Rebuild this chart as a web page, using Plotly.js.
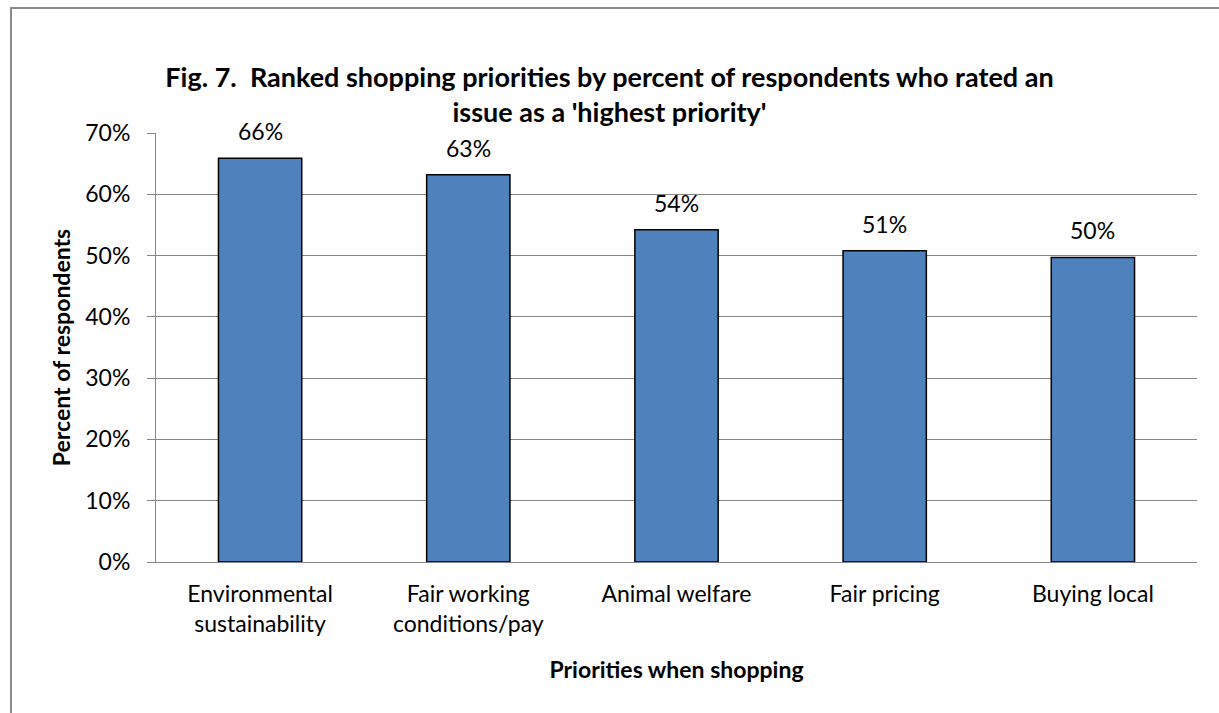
<!DOCTYPE html>
<html>
<head>
<meta charset="utf-8">
<script src="https://cdn.plot.ly/plotly-3.0.1.min.js"></script>
<style>
  html, body { margin: 0; padding: 0; background: #ffffff; overflow: hidden; }
  #wrap { position: relative; width: 1219px; height: 713px; }
  #chart { width: 1219px; height: 713px; }
  #frame { position: absolute; left: 10px; top: 7px; width: 1300px; height: 800px;
           border: 2px solid #8c8c8c; pointer-events: none; }
</style>
</head>
<body>
<div id="wrap">
  <div id="chart"></div>
  <div id="frame"></div>
</div>
<script>
const categories = [
  "Environmental<br>sustainability",
  "Fair working<br>conditions/pay",
  "Animal welfare",
  "Fair pricing",
  "Buying local"
];
const values = [0.659, 0.632, 0.542, 0.508, 0.497];
const labels = ["66%", "63%", "54%", "51%", "50%"];

const FONT = "Lato, 'Open Sans', sans-serif";
const FS = 23;

const trace = {
  type: "bar",
  x: categories,
  y: values,
  width: 0.4,
  marker: { color: "#4f81bd", line: { color: "#000000", width: 1.5 } },
  hoverinfo: "none"
};

const annotations = categories.map((c, i) => ({
  x: c, y: values[i], xref: "x", yref: "y",
  text: labels[i], showarrow: false,
  yanchor: "bottom", yshift: 11,
  font: { family: FONT, size: FS, color: "#000000" }
}));

const layout = {
  width: 1219, height: 713,
  paper_bgcolor: "#ffffff", plot_bgcolor: "#ffffff",
  margin: { l: 156, r: 22, t: 133, b: 151 },
  font: { family: FONT, color: "#000000" },
  showlegend: false,
  title: {
    text: "<b>Fig. 7.  Ranked shopping priorities by percent of respondents who rated an<br>issue as a 'highest priority'</b>",
    x: 0.5, xref: "container", xanchor: "center",
    y: 1 - 87 / 713, yref: "container", yanchor: "top",
    font: { family: FONT, size: 27, color: "#000000" }
  },
  xaxis: {
    type: "category",
    showline: true, linecolor: "#868686", linewidth: 1,
    showgrid: false, ticks: "",
    ticklabelstandoff: 11,
    tickfont: { family: FONT, size: FS, color: "#000000" },
    title: { text: "<b>Priorities when shopping</b>", standoff: 26,
             font: { family: FONT, size: FS, color: "#000000" } }
  },
  yaxis: {
    range: [0, 0.7], dtick: 0.1, tick0: 0, tickformat: ".0%",
    showline: true, linecolor: "#868686", linewidth: 1,
    showgrid: true, gridcolor: "#868686", gridwidth: 1,
    zeroline: false,
    ticks: "outside", ticklen: 8, tickcolor: "#868686", tickwidth: 1,
    ticklabelstandoff: 12,
    tickfont: { family: FONT, size: FS, color: "#000000" },
    title: { text: "<b>Percent of respondents</b>", standoff: 8,
             font: { family: FONT, size: FS, color: "#000000" } }
  },
  annotations: annotations
};

Plotly.newPlot("chart", [trace], layout, { displayModeBar: false, staticPlot: true });
</script>
</body>
</html>
